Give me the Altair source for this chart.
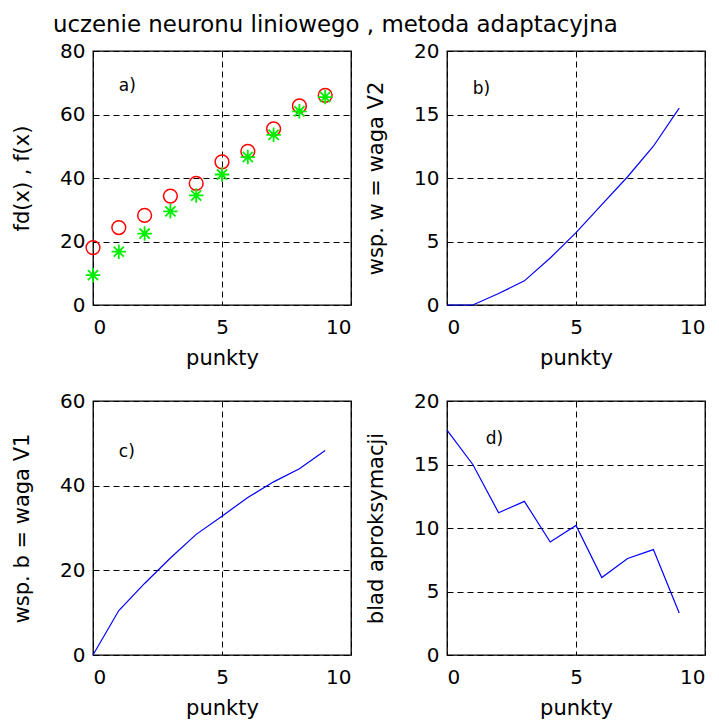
import altair as alt
import pandas as pd

# ---- data ----
x_pts = [0, 1, 2, 3, 4, 5, 6, 7, 8, 9]
fd_vals = [18.1, 24.4, 28.2, 34.3, 38.3, 45.1, 48.4, 55.5, 62.7, 66.0]   # red circles
f_vals = [9.4, 16.8, 22.5, 29.5, 34.5, 41.1, 46.6, 53.6, 61.0, 65.5]     # green stars
w_vals = [0.0, 0.0, 0.9, 1.9, 3.7, 5.7, 7.9, 10.1, 12.5, 15.5]          # panel b
b_vals = [0.0, 10.5, 16.9, 22.9, 28.5, 32.8, 37.2, 40.9, 44.0, 48.3]    # panel c
err_vals = [17.7, 15.0, 11.2, 12.1, 8.9, 10.2, 6.1, 7.6, 8.3, 3.3]      # panel d

panel_tags = ["a)", "b)", "c)", "d)"]
tag_x = [1.0, 1.0, 1.0, 1.5]
tag_y = [69, 17, 48, 17]

y_titles = ["fd(x) , f(x)", "wsp. w = waga V2", "wsp. b = waga V1", "blad aproksymacji"]
y_domains = [[0, 80], [0, 20], [0, 60], [0, 20]]
y_ticks = [[0, 20, 40, 60, 80], [0, 5, 10, 15, 20], [0, 20, 40, 60], [0, 5, 10, 15, 20]]
x_ticks = [0, 5, 10]
x_title = "punkty"
main_title = "uczenie neuronu liniowego , metoda adaptacyjna"

W, H = 258, 254
FONT = "DejaVu Sans"
STAR = "M-1,0L1,0M0,-1L0,1M-0.7,-0.7L0.7,0.7M-0.7,0.7L0.7,-0.7"


def xenc():
    return alt.X("x:Q", scale=alt.Scale(domain=[0, 10], nice=False),
                 axis=alt.Axis(values=x_ticks, title=x_title, format="d"))


def yenc(i):
    return alt.Y("y:Q", scale=alt.Scale(domain=y_domains[i], nice=False),
                 axis=alt.Axis(values=y_ticks[i], title=y_titles[i], format="d"))


def tag_layer(i):
    df = pd.DataFrame({"x": [tag_x[i]], "y": [tag_y[i]], "t": [panel_tags[i]]})
    return alt.Chart(df).mark_text(align="left", baseline="middle", fontSize=17,
                                   font=FONT, color="black").encode(
        x="x:Q", y="y:Q", text="t:N")


# panel a
df_fd = pd.DataFrame({"x": x_pts, "y": fd_vals})
df_f = pd.DataFrame({"x": x_pts, "y": f_vals})
circ = alt.Chart(df_fd).mark_point(shape="circle", filled=False, color="#ff0000",
                                   size=190, strokeWidth=1.5, opacity=1).encode(x=xenc(), y=yenc(0))
star = alt.Chart(df_f).mark_point(shape=STAR, filled=False, color="#00ee00",
                                  size=210, strokeWidth=1.8, opacity=1).encode(x=xenc(), y=yenc(0))
pa = alt.layer(circ, star, tag_layer(0)).properties(width=W, height=H)


def line_panel(i, vals):
    df = pd.DataFrame({"x": x_pts, "y": vals})
    ln = alt.Chart(df).mark_line(color="#0000ff", strokeWidth=1.2).encode(x=xenc(), y=yenc(i))
    return alt.layer(ln, tag_layer(i)).properties(width=W, height=H)


pb = line_panel(1, w_vals)
pc = line_panel(2, b_vals)
pd_ = line_panel(3, err_vals)

row1 = alt.hconcat(pa, pb, spacing=12)
row2 = alt.hconcat(pc, pd_, spacing=12)
chart = alt.vconcat(row1, row2, spacing=21).properties(
    title=alt.TitleParams(main_title, anchor="start", fontSize=22.9, font=FONT,
                          fontWeight="normal", color="black", dx=42, offset=3),
    padding={"left": 2, "top": 6, "right": 0, "bottom": 0},
    background="white",
).configure_view(stroke="black", strokeWidth=1.3).configure_axis(
    labelFont=FONT, labelFontSize=20, labelColor="black",
    titleFont=FONT, titleFontSize=21, titleFontWeight="normal", titleColor="black",
    grid=True, gridColor="black", gridDash=[6, 4], gridOpacity=1, gridWidth=1,
    ticks=False, domain=False, labelPadding=8, titlePadding=27,
).configure_axisX(labelPadding=12, titlePadding=10)

chart.save("out.html", embed_options={"renderer": "svg", "actions": False})
